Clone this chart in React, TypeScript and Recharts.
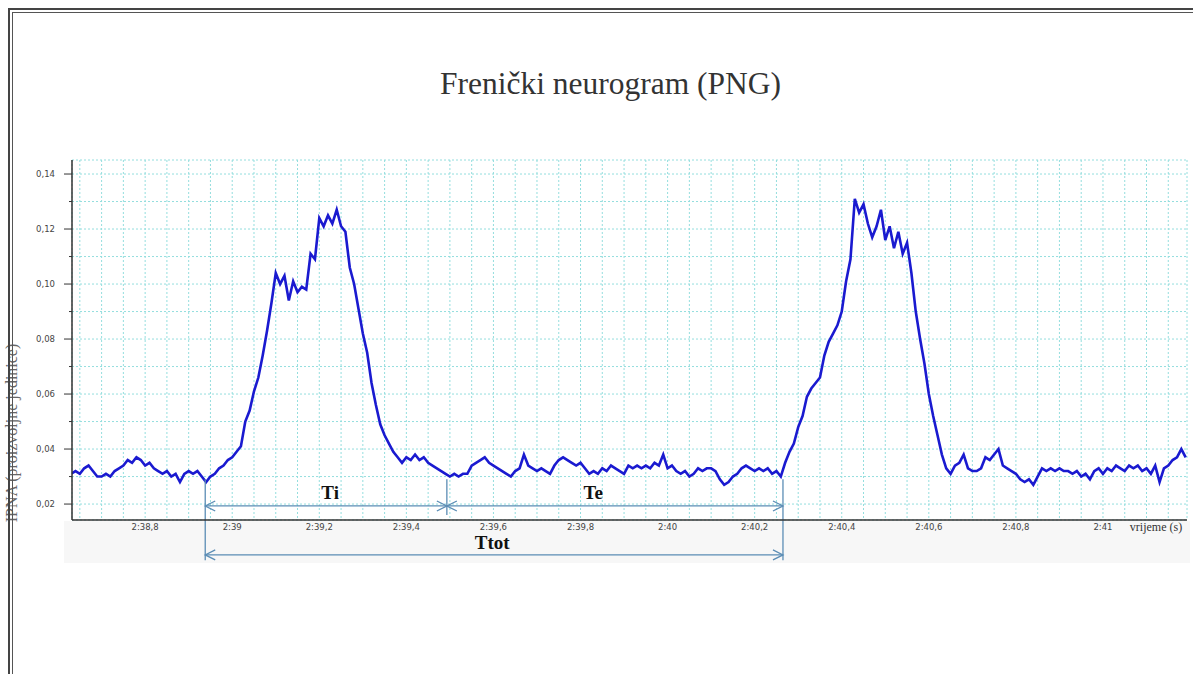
import React from 'react';
import { LineChart, Line, XAxis, YAxis, CartesianGrid, ReferenceLine, ReferenceDot } from 'recharts';

// time axis: seconds after 2:00 (2:38,63 ... 2:41,19), one sample every 0.01 s
const SAMPLE_START = 38.63;
const SAMPLE_STEP = 0.01;

const signal: number[] = [
  0.031, 0.032, 0.031, 0.033, 0.034, 0.032, 0.030,
  0.030, 0.031, 0.030, 0.032, 0.033, 0.034, 0.036, 0.035, 0.037, 0.036,
  0.034, 0.035, 0.033, 0.032, 0.031, 0.032, 0.030, 0.031, 0.028, 0.031,
  0.032, 0.031, 0.032, 0.030, 0.028, 0.030, 0.031, 0.033, 0.034, 0.036,
  0.037, 0.039, 0.041, 0.050, 0.054, 0.061, 0.066, 0.074, 0.083, 0.093,
  0.104, 0.100, 0.103, 0.094, 0.101, 0.097, 0.099, 0.098, 0.111, 0.109,
  0.124, 0.121, 0.125, 0.122, 0.127, 0.121, 0.119, 0.106, 0.100, 0.091,
  0.082, 0.075, 0.064, 0.056, 0.049, 0.045, 0.042, 0.039, 0.037, 0.035,
  0.037, 0.036, 0.038, 0.036, 0.037, 0.035, 0.034, 0.033, 0.032, 0.031,
  0.030, 0.031, 0.030, 0.031, 0.031, 0.034, 0.035, 0.036, 0.037, 0.035,
  0.034, 0.033, 0.032, 0.031, 0.030, 0.032, 0.033, 0.038, 0.034, 0.033,
  0.032, 0.033, 0.032, 0.031, 0.034, 0.036, 0.037, 0.036, 0.035, 0.034,
  0.035, 0.033, 0.031, 0.032, 0.031, 0.033, 0.032, 0.034, 0.033, 0.032,
  0.031, 0.034, 0.033, 0.034, 0.033, 0.034, 0.033, 0.035, 0.034, 0.038,
  0.033, 0.034, 0.032, 0.031, 0.032, 0.030, 0.031, 0.033, 0.032, 0.033,
  0.033, 0.032, 0.029, 0.027, 0.028, 0.030, 0.031, 0.033, 0.034, 0.033,
  0.032, 0.033, 0.032, 0.033, 0.031, 0.032, 0.030, 0.035, 0.039, 0.042,
  0.048, 0.052, 0.059, 0.062, 0.064, 0.066, 0.074, 0.079, 0.082, 0.085,
  0.090, 0.101, 0.109, 0.131, 0.126, 0.129, 0.122, 0.117, 0.121, 0.127,
  0.116, 0.121, 0.113, 0.119, 0.111, 0.115, 0.104, 0.090, 0.080, 0.071,
  0.060, 0.052, 0.045, 0.038, 0.033, 0.031, 0.034, 0.035, 0.038, 0.033,
  0.032, 0.032, 0.033, 0.037, 0.036, 0.038, 0.040, 0.034, 0.033, 0.032,
  0.031, 0.029, 0.028, 0.029, 0.027, 0.030, 0.033, 0.032, 0.033, 0.032,
  0.033, 0.032, 0.032, 0.031, 0.032, 0.030, 0.031, 0.029, 0.032, 0.033,
  0.031, 0.033, 0.032, 0.034, 0.033, 0.032, 0.034, 0.033, 0.034, 0.032,
  0.033, 0.031, 0.034, 0.028, 0.033, 0.034, 0.036, 0.037, 0.040, 0.037,
];

// x ticks every 0.05 s (grid), labels every 0.2 s
const xTicks: number[] = [
  38.65, 38.7, 38.75, 38.8, 38.85, 38.9, 38.95, 39.0, 39.05, 39.1, 39.15, 39.2, 39.25, 39.3, 39.35,
  39.4, 39.45, 39.5, 39.55, 39.6, 39.65, 39.7, 39.75, 39.8, 39.85, 39.9, 39.95, 40.0, 40.05, 40.1,
  40.15, 40.2, 40.25, 40.3, 40.35, 40.4, 40.45, 40.5, 40.55, 40.6, 40.65, 40.7, 40.75, 40.8, 40.85,
  40.9, 40.95, 41.0, 41.05, 41.1, 41.15,
];
const xLabelTicks: number[] = [38.8, 39.0, 39.2, 39.4, 39.6, 39.8, 40.0, 40.2, 40.4, 40.6, 40.8, 41.0];
const yTicks: number[] = [0.02, 0.03, 0.04, 0.05, 0.06, 0.07, 0.08, 0.09, 0.1, 0.11, 0.12, 0.13, 0.14];
const yLabelTicks: number[] = [0.02, 0.04, 0.06, 0.08, 0.1, 0.12, 0.14];

// phase markers (inspiration start, expiration start, next inspiration start)
const phaseTimes: number[] = [38.938, 39.493, 40.265];
const phaseLabels: string[] = ['Ti', 'Te', 'Ttot'];
const phaseLabelTimes: number[] = [39.225, 39.829, 39.597];
const phaseLabelLevels: number[] = [0.0241, 0.0241, 0.0058];
const arrowLevelShort = 0.0193;
const arrowLevelTotal = 0.0015;
const markerTop = 0.029;
const markerShortBottom = 0.016;
const markerLongBottom = -0.0004;

const data = signal.map((v, i) => ({ t: Math.round((SAMPLE_START + i * SAMPLE_STEP) * 1000) / 1000, v }));

const fmtTime = (t: number) => {
  const s = Math.round(t * 10) / 10;
  if (Math.abs(s - Math.round(s)) < 1e-6) return `2:${Math.round(s)}`;
  return `2:${s.toFixed(1).replace('.', ',')}`;
};

const isIn = (arr: number[], v: number) => arr.some((a) => Math.abs(a - v) < 1e-6);

const XTick = (props: any) => {
  const { x, y, payload } = props;
  if (!isIn(xLabelTicks, payload.value)) return <g />;
  return (
    <text x={x} y={y + 10} textAnchor="middle" fontSize={8.5} fill="#444" fontFamily="DejaVu Sans, Verdana, sans-serif">
      {fmtTime(payload.value)}
    </text>
  );
};

const YTick = (props: any) => {
  const { x, y, payload } = props;
  const major = isIn(yLabelTicks, payload.value);
  return (
    <g>
      <line x1={x - (major ? 8 : 3)} x2={x} y1={y} y2={y} stroke="#333" strokeWidth={1} />
      {major && (
        <text x={x - 17} y={y + 3} textAnchor="end" fontSize={8.5} fill="#444" fontFamily="DejaVu Sans, Verdana, sans-serif">
          {payload.value.toFixed(2).replace('.', ',')}
        </text>
      )}
    </g>
  );
};

const ARROW = '#5b8db5';

const DoubleArrow = (props: any) => {
  const { x1, y1, x2, y2 } = props;
  const a = 10;
  const h = 5;
  return (
    <g>
      <line x1={x1} y1={y1} x2={x2} y2={y2} stroke={ARROW} strokeWidth={1.3} />
      <polyline points={`${x1 + a},${y1 - h} ${x1},${y1} ${x1 + a},${y1 + h}`} fill="none" stroke={ARROW} strokeWidth={1.3} />
      <polyline points={`${x2 - a},${y2 - h} ${x2},${y2} ${x2 - a},${y2 + h}`} fill="none" stroke={ARROW} strokeWidth={1.3} />
    </g>
  );
};

const PlainLine = (props: any) => {
  const { x1, y1, x2, y2 } = props;
  return <line x1={x1} y1={y1} x2={x2} y2={y2} stroke={ARROW} strokeWidth={1.3} />;
};

const LabelDot = (text: string) => (props: any) => {
  const { cx, cy } = props;
  return (
    <text x={cx} y={cy + 6} textAnchor="middle" fontSize={19} fontWeight="bold" fill="#111" fontFamily="Liberation Serif, Times New Roman, serif">
      {text}
    </text>
  );
};

export default function App() {
  return (
    <div style={{ position: 'absolute', left: 0, top: 0, width: 1193, height: 674, background: '#fff', overflow: 'hidden' }}>
      {/* light band under the axis */}
      <div style={{ position: 'absolute', left: 64, top: 521, width: 1126, height: 42, background: '#f7f7f7' }} />
      <div
        style={{
          position: 'absolute', left: 14, width: 1193, top: 66, textAlign: 'center', fontFamily: 'Liberation Serif, Times New Roman, serif',
          fontSize: 31.5, color: '#333',
        }}
      >
        Frenički neurogram (PNG)
      </div>
      <div
        style={{
          position: 'absolute', left: 12, top: 433, transform: 'translate(-50%, -50%) rotate(-90deg)', whiteSpace: 'nowrap',
          fontFamily: 'Liberation Serif, Times New Roman, serif', fontSize: 16, color: '#666',
        }}
      >
        IPNA (proizvoljne jedinice)
      </div>
      <div style={{ position: 'absolute', left: 0, top: 0 }}>
        <LineChart width={1193} height={674} data={data} margin={{ top: 160, right: 6, bottom: 134, left: 0 }}>
          <CartesianGrid stroke="#94dede" strokeDasharray="2 2" strokeWidth={1} />
          <XAxis
            dataKey="t"
            type="number"
            domain={[38.632, 41.193]}
            allowDataOverflow
            ticks={xTicks}
            interval={0}
            tick={<XTick />}
            tickLine={false}
            tickSize={0}
            tickMargin={0}
            height={20}
            axisLine={{ stroke: '#333', strokeWidth: 1.5 }}
          />
          <YAxis
            type="number"
            domain={[0.0142, 0.1451]}
            allowDataOverflow
            ticks={yTicks}
            interval={0}
            tick={<YTick />}
            tickLine={false}
            tickSize={0}
            tickMargin={0}
            width={72}
            axisLine={{ stroke: '#333', strokeWidth: 1.5 }}
          />
          <Line type="linear" dataKey="v" stroke="#1a1ad0" strokeWidth={2.6} strokeLinejoin="miter" dot={false} isAnimationActive={false} />
          <ReferenceLine segment={[{ x: phaseTimes[0], y: markerTop }, { x: phaseTimes[0], y: markerLongBottom }]} ifOverflow="visible" shape={<PlainLine />} />
          <ReferenceLine segment={[{ x: phaseTimes[1], y: markerTop }, { x: phaseTimes[1], y: markerShortBottom }]} ifOverflow="visible" shape={<PlainLine />} />
          <ReferenceLine segment={[{ x: phaseTimes[2], y: markerTop }, { x: phaseTimes[2], y: markerLongBottom }]} ifOverflow="visible" shape={<PlainLine />} />
          <ReferenceLine segment={[{ x: phaseTimes[0], y: arrowLevelShort }, { x: phaseTimes[1], y: arrowLevelShort }]} ifOverflow="visible" shape={<DoubleArrow />} />
          <ReferenceLine segment={[{ x: phaseTimes[1], y: arrowLevelShort }, { x: phaseTimes[2], y: arrowLevelShort }]} ifOverflow="visible" shape={<DoubleArrow />} />
          <ReferenceLine segment={[{ x: phaseTimes[0], y: arrowLevelTotal }, { x: phaseTimes[2], y: arrowLevelTotal }]} ifOverflow="visible" shape={<DoubleArrow />} />
          {phaseLabels.map((lab, i) => (
            <ReferenceDot key={lab} x={phaseLabelTimes[i]} y={phaseLabelLevels[i]} ifOverflow="visible" shape={LabelDot(lab)} />
          ))}
          <text x={1156} y={531} textAnchor="middle" fontSize={12} fill="#333" fontFamily="Liberation Serif, Times New Roman, serif">
            vrijeme (s)
          </text>
        </LineChart>
      </div>
      {/* double frame */}
      <div style={{ position: 'absolute', left: 8, top: 8, width: 1185, height: 2, background: '#444' }} />
      <div style={{ position: 'absolute', left: 12, top: 12, width: 1181, height: 1, background: '#555' }} />
      <div style={{ position: 'absolute', left: 8, top: 8, width: 2, height: 666, background: '#444' }} />
      <div style={{ position: 'absolute', left: 12, top: 12, width: 1, height: 662, background: '#555' }} />
    </div>
  );
}
